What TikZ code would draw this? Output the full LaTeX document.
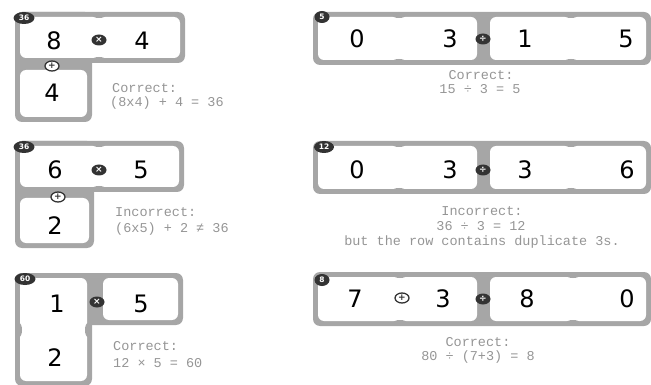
\documentclass[tikz,border=0pt]{standalone}
\usepackage{fontspec}
\usetikzlibrary{shapes.geometric}
\newfontfamily\digitfont{DejaVu Sans}
\newfontfamily\capfont{Liberation Mono}
\newfontfamily\labfont{DejaVu Sans}
\definecolor{cagegray}{HTML}{A6A6A6}
\definecolor{opdark}{HTML}{333333}
\definecolor{capgray}{HTML}{959595}
\tikzset{
  cagefill/.style={fill=cagegray, rounded corners=7pt},
  cellfill/.style={fill=white, rounded corners=6pt},
  notch/.style={ellipse, fill=cagegray, minimum width=14pt, minimum height=6pt, inner sep=0pt},
  digit/.style={font=\digitfont\fontsize{24}{24}\selectfont, text=black, inner sep=0pt},
  opsym/.style={ellipse, fill=opdark, text=white, inner sep=0pt, minimum width=15pt, minimum height=11pt, font=\digitfont\fontsize{9}{9}\selectfont\bfseries},
  opout/.style={ellipse, draw=opdark, line width=1.3pt, fill=white, text=opdark, inner sep=0pt, minimum width=14pt, minimum height=10pt, font=\digitfont\fontsize{9}{9}\selectfont\bfseries},
  lab/.style={ellipse, fill=opdark, text=white, inner sep=0pt, minimum height=12pt, font=\labfont\fontsize{7.5}{7.5}\selectfont\bfseries},
  captext/.style={font=\capfont\fontsize{13.5}{14}\selectfont, text=capgray, inner sep=0pt},
}
\begin{document}
\begin{tikzpicture}[x=1pt,y=-1pt]
\useasboundingbox (0,0) rectangle (651,385);
% ---------- Example 1 ----------
\fill[cagefill] (15,12) rectangle (185,63);
\fill[cagefill] (15,12) rectangle (92,122);
\fill[cellfill] (20,17) rectangle (180,58);
\fill[cellfill] (20,70) rectangle (87,117);
\node[notch] (n1a) at (99,15) {};
\node[notch] (n1b) at (99,60) {};
\node[digit] (d1a) at (54,41) {8};
\node[digit] (d1b) at (142,41) {4};
\node[digit] (d1c) at (52,93) {4};
\node[opsym] (o1a) at (99,40) {×};
\node[opout] (o1b) at (52,66) {+};
\node[lab, minimum width=21pt] (l1) at (24,18) {36};
\node[captext, anchor=west] (c1a) at (112,88) {Correct:};
\node[captext, anchor=west] (c1b) at (110,103) {(8x4) + 4 = 36};
% ---------- Example 2 ----------
\fill[cagefill] (15,141) rectangle (184,192);
\fill[cagefill] (15,141) rectangle (94,248);
\fill[cellfill] (20,146) rectangle (179,187);
\fill[cellfill] (20,198) rectangle (89,243);
\node[notch] (n2a) at (99,144) {};
\node[notch] (n2b) at (99,189) {};
\node[digit] (d2a) at (55,170) {6};
\node[digit] (d2b) at (141,170) {5};
\node[digit] (d2c) at (55,226) {2};
\node[opsym] (o2a) at (99,170) {×};
\node[opout] (o2b) at (58,197) {+};
\node[lab, minimum width=21pt] (l2) at (24,147) {36};
\node[captext, anchor=west] (c2a) at (115,212) {Incorrect:};
\node[captext, anchor=west] (c2b) at (115,229) {(6x5) + 2 ≠ 36};
% ---------- Example 3 ----------
\fill[cagefill] (15,273) rectangle (92,386);
\fill[cagefill] (15,273) rectangle (183,325);
\fill[cellfill] (20,278) rectangle (87,381);
\fill[cellfill] (103,278) rectangle (178,320);
\node[notch, minimum width=6pt, minimum height=14pt] (n3a) at (19,330) {};
\node[notch, minimum width=6pt, minimum height=14pt] (n3b) at (88,330) {};
\node[digit] (d3a) at (57,304) {1};
\node[digit] (d3b) at (141,304) {5};
\node[digit] (d3c) at (55,358) {2};
\node[opsym] (o3a) at (97,302) {×};
\node[lab, minimum width=21pt] (l3) at (25,279) {60};
\node[captext, anchor=west] (c3a) at (113,346) {Correct:};
\node[captext, anchor=west] (c3b) at (113,363) {12 × 5 = 60};
% ---------- Example 4 ----------
\fill[cagefill] (313,12) rectangle (651,65);
\fill[cellfill] (318,17) rectangle (477,60);
\fill[cellfill] (490,17) rectangle (646,60);
\node[notch] (n4a) at (399,15) {};
\node[notch] (n4b) at (399,62) {};
\node[notch] (n4c) at (571,15) {};
\node[notch] (n4d) at (571,62) {};
\node[digit] (d4a) at (357,39) {0};
\node[digit] (d4b) at (450,39) {3};
\node[digit] (d4c) at (525,39) {1};
\node[digit] (d4d) at (626,39) {5};
\node[opsym] (o4a) at (483,39) {÷};
\node[lab, minimum width=15pt] (l4) at (322,17) {5};
\node[captext] (c4a) at (481,75) {Correct:};
\node[captext] (c4b) at (480,89) {15 ÷ 3 = 5};
% ---------- Example 5 ----------
\fill[cagefill] (313,141) rectangle (651,194);
\fill[cellfill] (318,146) rectangle (477,189);
\fill[cellfill] (490,146) rectangle (646,189);
\node[notch] (n5a) at (399,144) {};
\node[notch] (n5b) at (399,191) {};
\node[notch] (n5c) at (571,144) {};
\node[notch] (n5d) at (571,191) {};
\node[digit] (d5a) at (357,170) {0};
\node[digit] (d5b) at (450,170) {3};
\node[digit] (d5c) at (525,170) {3};
\node[digit] (d5d) at (627,170) {6};
\node[opsym] (o5a) at (483,170) {÷};
\node[lab, minimum width=20pt] (l5) at (324,147) {12};
\node[captext] (c5a) at (482,211) {Incorrect:};
\node[captext] (c5b) at (481,226) {36 ÷ 3 = 12};
\node[captext] (c5c) at (482,242) {but the row contains duplicate 3s.};
% ---------- Example 6 ----------
\fill[cagefill] (313,272) rectangle (651,326);
\fill[cellfill] (318,277) rectangle (477,321);
\fill[cellfill] (490,277) rectangle (646,321);
\node[notch] (n6a) at (400,275) {};
\node[notch] (n6b) at (400,323) {};
\node[notch] (n6c) at (573,275) {};
\node[notch] (n6d) at (573,323) {};
\node[digit] (d6a) at (355,299) {7};
\node[digit] (d6b) at (443,299) {3};
\node[digit] (d6c) at (527,299) {8};
\node[digit] (d6d) at (627,299) {0};
\node[opout] (o6a) at (402,298) {+};
\node[opsym] (o6b) at (483,299) {÷};
\node[lab, minimum width=15pt] (l6) at (322,280) {8};
\node[captext] (c6a) at (478,342) {Correct:};
\node[captext] (c6b) at (478,357) {80 ÷ (7+3) = 8};
\end{tikzpicture}
\end{document}
